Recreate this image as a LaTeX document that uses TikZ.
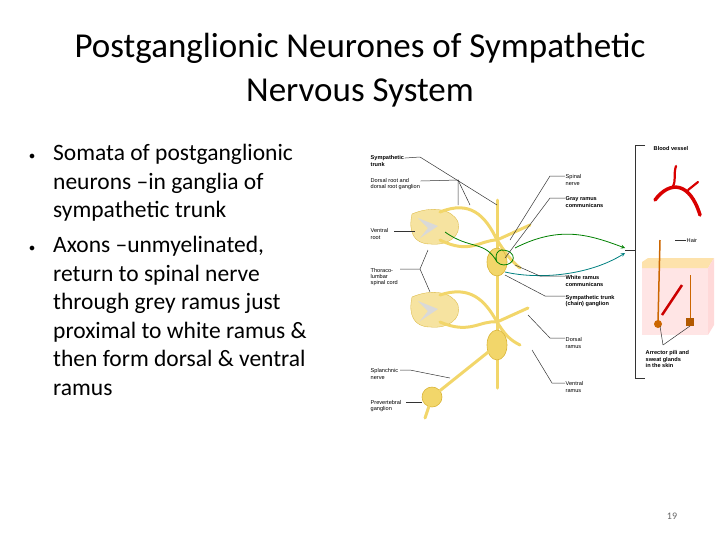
\documentclass[tikz,border=0pt]{standalone}
\usepackage{fontspec}
\usetikzlibrary{shapes.geometric}
\setmainfont{Carlito}
\newfontfamily\lab{Liberation Sans}
\definecolor{nv}{HTML}{F2D66A}
\definecolor{nvd}{HTML}{D9B437}
\definecolor{cord}{HTML}{F6E3A0}
\begin{document}
\begin{tikzpicture}[x=1pt,y=-1pt,
  lbl/.style={font=\lab\fontsize{5.6}{6.4}\selectfont,align=left,anchor=west,inner sep=0.5pt},
  blbl/.style={lbl,font=\lab\bfseries\fontsize{5.6}{6.4}\selectfont},
  nerveF/.style={draw=nv,line width=3pt,line cap=round},
  lead/.style={draw=black!80,line width=0.5pt},
  gr/.style={draw=green!50!black,line width=0.8pt},
  gang/.style={fill=nv,draw=nvd,line width=0.6pt},
  btxt/.style={anchor=north west,align=left,font=\fontsize{23.5}{28.5}\selectfont,inner sep=0pt}]
\useasboundingbox (0,0) rectangle (720,539);
\node[font=\fontsize{35}{44}\selectfont,align=center] (title) at (360,70) {Postganglionic Neurones of Sympathetic\\Nervous System};
\node[btxt] (b1) at (53,144) {Somata of postganglionic\\neurons --in ganglia of\\sympathetic trunk};
\node[btxt] (b2) at (53,236) {Axons --unmyelinated,\\return to spinal nerve\\through grey ramus just\\proximal to white ramus \&\\then form dorsal \& ventral\\ramus};
\node[font=\fontsize{12}{19}\selectfont] (d1) at (32,157) {$\bullet$};
\node[font=\fontsize{12}{19}\selectfont] (d2) at (32,249) {$\bullet$};
% spinal cords
\foreach \y/\n in {228/c1,311/c2}{
 \fill[cord,draw=nvd,line width=0.3pt] (412,\y-14) .. controls (430,\y-22) and (452,\y-20) .. (458,\y-6) .. controls (462,\y+8) and (448,\y+18) .. (430,\y+16) .. controls (414,\y+16) and (408,\y+4) .. (412,\y-14) -- cycle;
 \fill[gray!30] (418,\y-10) -- (438,\y-2) -- (420,\y+10) -- (428,\y) -- cycle;
 \coordinate (\n) at (440,\y);
}
% roots
\draw[nerveF] (440,212) .. controls (470,200) and (485,215) .. (497,240) .. controls (505,252) and (510,260) .. (520,268);
\draw[nerveF] (440,240) .. controls (470,255) and (480,240) .. (497,240);
\draw[nerveF] (440,295) .. controls (470,285) and (485,300) .. (497,322) .. controls (505,335) and (510,340) .. (520,345);
\draw[nerveF] (440,322) .. controls (470,335) and (480,320) .. (497,322);
\draw[nerveF] (497,240) -- (530,225);
\draw[nerveF] (497,322) -- (528,308);
% trunk
\draw[nerveF] (497,200) -- (497,388);
\node[gang,ellipse,minimum width=20pt,minimum height=28pt,inner sep=0pt] (g1) at (497,262) {};
\node[gang,ellipse,minimum width=20pt,minimum height=30pt,inner sep=0pt] (g2) at (497,345) {};
\node[gang,circle,minimum size=20pt,inner sep=0pt] (pv) at (432,397) {};
\draw[nerveF] (g2) -- (pv);
\draw[nerveF] (pv) -- (425,418);
% green fibers
\draw[gr] (445,232) .. controls (470,250) and (485,240) .. (g1.center) .. controls (505,270) and (520,260) .. (510,252) .. controls (495,245) and (495,258) .. (g1.center);
\draw[gr,->,>=stealth] (515,248) .. controls (560,225) and (590,235) .. (625,248);
\draw[gr,draw=teal,->,>=stealth] (505,272) .. controls (540,280) and (590,275) .. (625,253);
% left labels
\node[blbl] (l1) at (370,161) {Sympathetic\\trunk};
\node[lbl] (l2) at (370,184) {Dorsal root and\\dorsal root ganglion};
\node[lbl] (l3) at (370,234) {Ventral\\root};
\node[lbl] (l4) at (370,277) {Thoraco-\\lumbar\\spinal cord};
\node[lbl] (l5) at (370,374) {Splanchnic\\nerve};
\node[lbl] (l6) at (370,406) {Prevertebral\\ganglion};
\draw[lead] (l1.north east) ++(0,3) -- (420,157) -- (497,205);
\draw[lead] (l2.east) ++(0,-3) -- (458,180) -- (458,205);
\draw[lead] (458,180) -- (470,205);
\draw[lead] (394,231) -- (415,231);
\draw[lead] (400,269) -- (420,269) -- (428,250);
\draw[lead] (420,269) -- (430,292);
\draw[lead] (400,370) -- (410,370) -- (450,378);
\draw[lead] (406,402) -- (422,402);
% right labels
\node[lbl] (r1) at (565,180) {Spinal\\nerve};
\node[blbl] (r2) at (565,202) {Gray ramus\\communicans};
\node[blbl] (r3) at (565,281) {White ramus\\communicans};
\node[blbl] (r4) at (565,301) {Sympathetic trunk\\(chain) ganglion};
\node[lbl] (r5) at (565,343) {Dorsal\\ramus};
\node[lbl] (r6) at (565,387) {Ventral\\ramus};
\draw[lead] (565,176) -- (550,176) -- (510,240);
\draw[lead] (565,198) -- (550,198) -- (505,258);
\draw[lead] (565,276) -- (540,276) -- (515,265);
\draw[lead] (565,296) -- (545,296) -- (505,275);
\draw[lead] (565,338) -- (550,338) -- (528,315);
\draw[lead] (565,383) -- (552,383) -- (532,350);
% bracket
\draw[lead] (645,145) -- (635,145) -- (635,378) -- (645,378);
\draw[lead] (625,250) -- (635,250);
\node[blbl] (bv) at (653,148) {Blood vessel};
\draw[red!85!black,line width=3.5pt,line cap=round] (655,200) .. controls (670,180) and (690,182) .. (700,215);
\draw[red!85!black,line width=2.2pt,line cap=round] (672,188) .. controls (677,180) and (673,175) .. (676,166);
\draw[red!85!black,line width=2.2pt,line cap=round] (688,190) -- (698,182);
% skin
\fill[pink!40] (642,268) rectangle (708,335);
\fill[yellow!30!orange!30] (642,262) -- (648,258) -- (714,258) -- (708,268) -- (642,268) -- cycle;
\fill[pink!60] (708,268) -- (714,258) -- (714,325) -- (708,335) -- cycle;
\draw[orange!80!black,line width=1.5pt] (660,240) -- (658,322);
\fill[orange!80!black] (658,324) circle (4);
\draw[red!80!black,line width=2.5pt] (662,315) -- (682,285);
\draw[orange!80!black,line width=1pt] (690,275) -- (690,318);
\fill[orange!70!black] (686,318) rectangle (694,326);
\node[lbl] (hair) at (686,240) {Hair};
\draw[lead] (675,240) -- (686,240);
\node[blbl] (ap) at (645,359) {Arrector pili and\\sweat glands\\in the skin};
\draw[lead] (663,345) -- (660,326);
\draw[lead] (663,345) -- (690,326);
\node[text=black!60,font=\fontsize{10}{12}\selectfont] (pg) at (672,516) {19};
\end{tikzpicture}
\end{document}
